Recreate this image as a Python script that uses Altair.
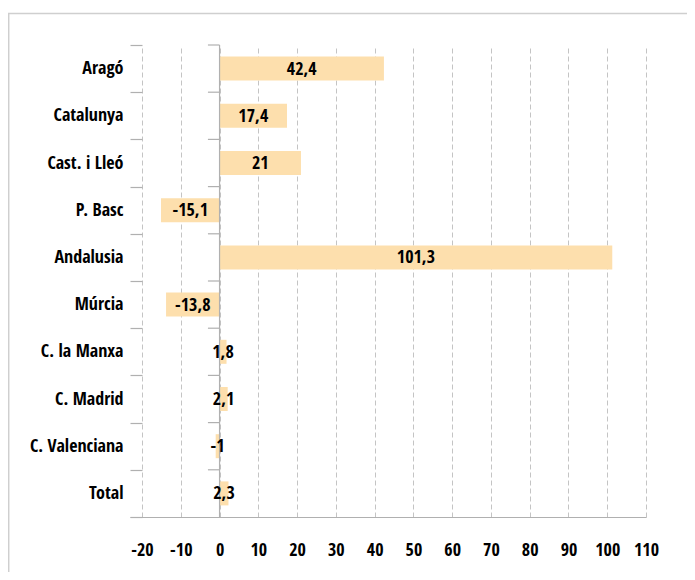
import altair as alt
import pandas as pd

categories = ["Aragó", "Catalunya", "Cast. i Lleó", "P. Basc", "Andalusia",
              "Múrcia", "C. la Manxa", "C. Madrid", "C. Valenciana", "Total"]
values = [42.4, 17.4, 21, -15.1, 101.3, -13.8, 1.8, 2.1, -1, 2.3]
x_ticks = list(range(-20, 111, 10))

FONT = "Open Sans Condensed"
FS = 18
BAR = "#FDDFAD"
GRID = "#c4c4c4"
AXIS = "#b0b0b0"


def fmt(v):
    return f"{v:g}".replace(".", ",")


df = pd.DataFrame({"cat": categories, "val": values,
                   "label": [fmt(v) for v in values]})
df["mid"] = df["val"] / 2

W, H = 516, 472

xscale = alt.Scale(domain=[-23.1, 110], nice=False, zero=False)
yscale = alt.Scale(paddingInner=0, paddingOuter=0)
xaxis = alt.Axis(values=x_ticks, tickCount=len(x_ticks), title=None, grid=True,
                 gridDash=[5, 3], gridColor=GRID, gridWidth=1,
                 tickSize=0, labelPadding=24, domainColor=AXIS,
                 domainWidth=1.2, labelFont=FONT, labelFontSize=FS,
                 labelFontWeight="bold", labelColor="black",
                 labelOverlap=False, labelFlush=False,
                 labelExpr="toString(datum.value)")
yaxis = alt.Axis(title=None, offset=-12, tickSize=12,
                 tickBand="extent", domain=False, labelPadding=7,
                 labelFont=FONT, labelFontSize=FS,
                 labelFontWeight="bold", labelColor="black",
                 tickColor=AXIS, tickWidth=1.2)

base = alt.Chart(df)

bars = base.mark_bar(color=BAR, size=24).encode(
    x=alt.X("val:Q", scale=xscale, axis=xaxis),
    y=alt.Y("cat:N", sort=categories, scale=yscale, axis=yaxis),
)

texts = base.mark_text(font=FONT, fontSize=FS, fontWeight="bold",
                       color="black", baseline="middle", align="center",
                       dy=1).encode(
    x=alt.X("mid:Q", scale=xscale, axis=xaxis),
    y=alt.Y("cat:N", sort=categories, scale=yscale, axis=yaxis),
    text="label:N",
)

zero_line = alt.Chart(alt.Data(values=[{}])).mark_rule(
    color=AXIS, strokeWidth=1.2).encode(x=alt.XDatum(0, axis=xaxis))

zero_ticks = base.mark_rule(color=AXIS, strokeWidth=1.2).encode(
    y=alt.Y("cat:N", sort=categories, scale=yscale, axis=yaxis, bandPosition=0),
    x=alt.XDatum(-3, axis=xaxis),
    x2=alt.X2Datum(0),
)

frame = alt.Chart(alt.Data(values=[{}])).mark_rect(
    filled=False, stroke="#cfcfcf", strokeWidth=1.5).encode(
    x=alt.value(-121.3), x2=alt.value(700),
    y=alt.value(-31.5), y2=alt.value(600),
)

chart = alt.layer(frame, bars, zero_line, zero_ticks, texts).properties(
    width=W, height=H,
    autosize=alt.AutoSizeParams(type="none"),
    padding={"left": 122, "top": 37, "right": 41, "bottom": 55},
).configure_view(stroke=None)

chart.save("out.html", embed_options={"renderer": "svg", "actions": False})
